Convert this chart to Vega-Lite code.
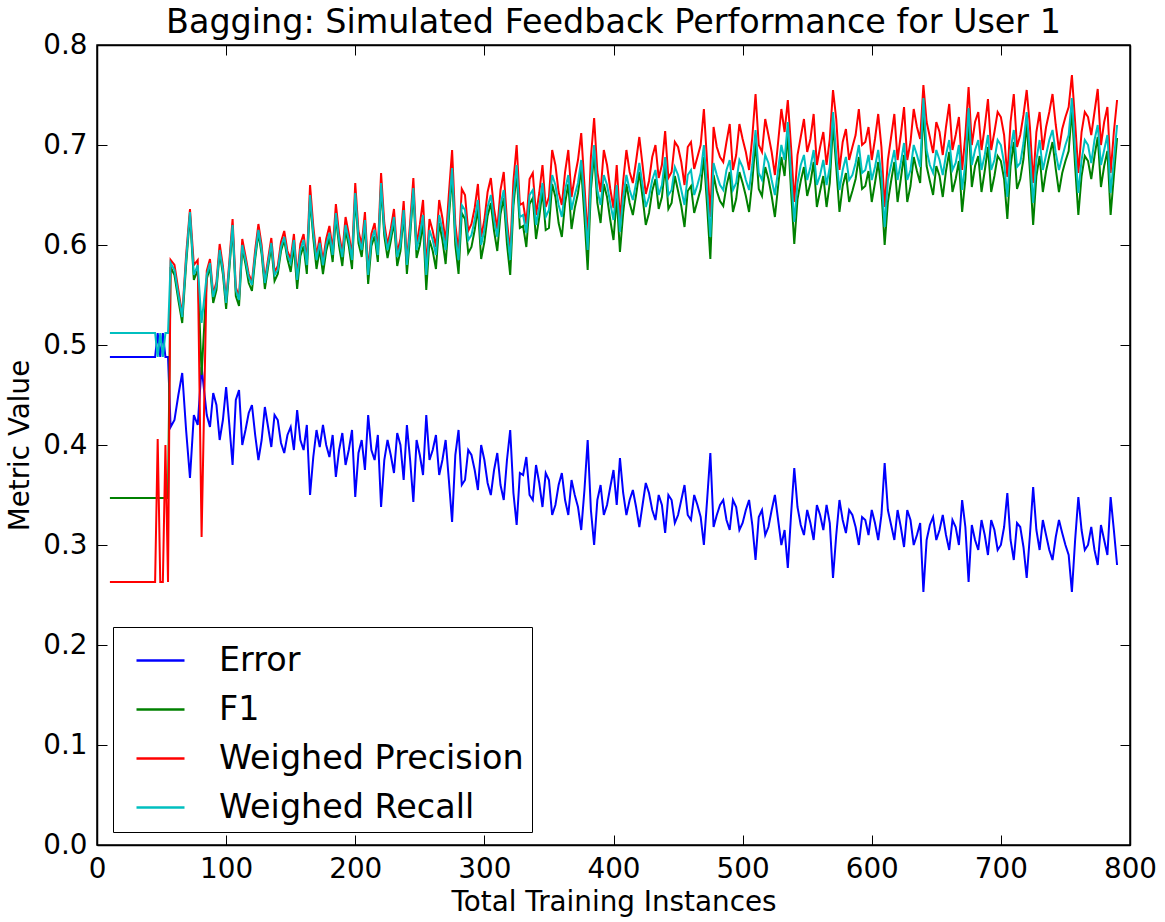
{
  "$schema": "https://vega.github.io/schema/vega-lite/v6.json",
  "autosize": "none",
  "padding": {"left": 97, "top": 45, "right": 35, "bottom": 77},
  "width": 1033,
  "height": 800,
  "background": "white",
  "title": {"text": "Bagging: Simulated Feedback Performance for User 1", "font": "DejaVu Sans", "fontSize": 33.4, "fontWeight": "normal", "color": "black", "offset": -9, "anchor": "middle"},
  "config": {
    "view": {"stroke": "black", "strokeWidth": 1.5},
    "axis": {"grid": false, "domainColor": "black", "domainWidth": 1.5, "tickColor": "black", "tickWidth": 1, "tickSize": -10, "labelFlush": false, "labelOverlap": false, "labelFont": "DejaVu Sans", "labelFontSize": 27.8, "labelColor": "black", "titleFont": "DejaVu Sans", "titleFontSize": 27.8, "titleFontWeight": "normal", "titleColor": "black"}
  },
  "data": {"values": [
    {"x":10,"e":0.488,"r":0.512,"p":0.263,"f":0.347},
    {"x":15,"e":0.488,"r":0.512,"p":0.263,"f":0.347},
    {"x":20,"e":0.488,"r":0.512,"p":0.263,"f":0.347},
    {"x":25,"e":0.488,"r":0.512,"p":0.263,"f":0.347},
    {"x":30,"e":0.488,"r":0.512,"p":0.263,"f":0.347},
    {"x":35,"e":0.488,"r":0.512,"p":0.263,"f":0.347},
    {"x":40,"e":0.488,"r":0.512,"p":0.263,"f":0.347},
    {"x":45,"e":0.488,"r":0.512,"p":0.263,"f":0.347},
    {"x":47,"e":0.512,"r":0.488,"p":0.406,"f":0.347},
    {"x":49,"e":0.488,"r":0.512,"p":0.263,"f":0.347},
    {"x":51,"e":0.512,"r":0.488,"p":0.263,"f":0.347},
    {"x":53,"e":0.488,"r":0.512,"p":0.400,"f":0.347},
    {"x":55,"e":0.488,"r":0.512,"p":0.263,"f":0.347},
    {"x":57,"e":0.418,"r":0.582,"p":0.585,"f":0.578},
    {"x":60,"e":0.425,"r":0.575,"p":0.580,"f":0.570},
    {"x":63,"e":0.450,"r":0.550,"p":0.555,"f":0.545},
    {"x":66,"e":0.472,"r":0.528,"p":0.530,"f":0.522},
    {"x":69,"e":0.415,"r":0.585,"p":0.590,"f":0.580},
    {"x":72,"e":0.367,"r":0.633,"p":0.636,"f":0.630},
    {"x":75,"e":0.430,"r":0.570,"p":0.580,"f":0.565},
    {"x":78,"e":0.420,"r":0.580,"p":0.585,"f":0.575},
    {"x":81,"e":0.478,"r":0.522,"p":0.308,"f":0.470},
    {"x":85,"e":0.430,"r":0.570,"p":0.574,"f":0.566},
    {"x":87.5,"e":0.418,"r":0.582,"p":0.586,"f":0.578},
    {"x":90,"e":0.452,"r":0.548,"p":0.551,"f":0.542},
    {"x":92.5,"e":0.440,"r":0.560,"p":0.563,"f":0.555},
    {"x":95,"e":0.405,"r":0.595,"p":0.601,"f":0.592},
    {"x":97.5,"e":0.425,"r":0.575,"p":0.579,"f":0.571},
    {"x":100,"e":0.458,"r":0.542,"p":0.545,"f":0.536},
    {"x":102.5,"e":0.420,"r":0.580,"p":0.584,"f":0.576},
    {"x":105,"e":0.380,"r":0.620,"p":0.626,"f":0.617},
    {"x":107.5,"e":0.445,"r":0.555,"p":0.558,"f":0.549},
    {"x":110,"e":0.455,"r":0.545,"p":0.548,"f":0.539},
    {"x":112.5,"e":0.400,"r":0.600,"p":0.606,"f":0.597},
    {"x":115,"e":0.415,"r":0.585,"p":0.589,"f":0.581},
    {"x":117.5,"e":0.432,"r":0.568,"p":0.571,"f":0.562},
    {"x":120,"e":0.440,"r":0.560,"p":0.563,"f":0.554},
    {"x":122.5,"e":0.410,"r":0.590,"p":0.595,"f":0.586},
    {"x":125,"e":0.385,"r":0.615,"p":0.621,"f":0.612},
    {"x":127.5,"e":0.405,"r":0.595,"p":0.600,"f":0.591},
    {"x":130,"e":0.438,"r":0.562,"p":0.565,"f":0.556},
    {"x":132.5,"e":0.418,"r":0.582,"p":0.586,"f":0.578},
    {"x":135,"e":0.398,"r":0.602,"p":0.607,"f":0.598},
    {"x":137.5,"e":0.430,"r":0.570,"p":0.573,"f":0.564},
    {"x":140,"e":0.425,"r":0.575,"p":0.579,"f":0.571},
    {"x":142.5,"e":0.402,"r":0.598,"p":0.603,"f":0.594},
    {"x":145,"e":0.392,"r":0.608,"p":0.614,"f":0.605},
    {"x":147.5,"e":0.410,"r":0.590,"p":0.594,"f":0.586},
    {"x":150,"e":0.418,"r":0.582,"p":0.586,"f":0.573},
    {"x":152.5,"e":0.395,"r":0.605,"p":0.611,"f":0.599},
    {"x":155,"e":0.435,"r":0.565,"p":0.569,"f":0.556},
    {"x":157.5,"e":0.405,"r":0.595,"p":0.601,"f":0.589},
    {"x":160,"e":0.395,"r":0.605,"p":0.611,"f":0.599},
    {"x":162.5,"e":0.420,"r":0.580,"p":0.584,"f":0.571},
    {"x":165,"e":0.350,"r":0.650,"p":0.660,"f":0.646},
    {"x":167.5,"e":0.388,"r":0.612,"p":0.619,"f":0.607},
    {"x":170,"e":0.415,"r":0.585,"p":0.589,"f":0.576},
    {"x":172.5,"e":0.398,"r":0.602,"p":0.608,"f":0.596},
    {"x":175,"e":0.420,"r":0.580,"p":0.584,"f":0.571},
    {"x":177.5,"e":0.400,"r":0.600,"p":0.606,"f":0.594},
    {"x":180,"e":0.388,"r":0.612,"p":0.619,"f":0.607},
    {"x":182.5,"e":0.410,"r":0.590,"p":0.595,"f":0.583},
    {"x":185,"e":0.368,"r":0.632,"p":0.641,"f":0.628},
    {"x":187.5,"e":0.395,"r":0.605,"p":0.611,"f":0.599},
    {"x":190,"e":0.412,"r":0.588,"p":0.592,"f":0.579},
    {"x":192.5,"e":0.380,"r":0.620,"p":0.628,"f":0.615},
    {"x":195,"e":0.395,"r":0.605,"p":0.611,"f":0.599},
    {"x":197.5,"e":0.415,"r":0.585,"p":0.589,"f":0.576},
    {"x":200,"e":0.348,"r":0.652,"p":0.662,"f":0.648},
    {"x":202.5,"e":0.392,"r":0.608,"p":0.614,"f":0.602},
    {"x":205,"e":0.405,"r":0.595,"p":0.600,"f":0.588},
    {"x":207.5,"e":0.375,"r":0.625,"p":0.633,"f":0.620},
    {"x":210,"e":0.430,"r":0.570,"p":0.574,"f":0.561},
    {"x":212.5,"e":0.395,"r":0.605,"p":0.611,"f":0.599},
    {"x":215,"e":0.385,"r":0.615,"p":0.622,"f":0.609},
    {"x":217.5,"e":0.410,"r":0.590,"p":0.595,"f":0.583},
    {"x":220,"e":0.338,"r":0.662,"p":0.672,"f":0.658},
    {"x":222.5,"e":0.385,"r":0.615,"p":0.622,"f":0.609},
    {"x":225,"e":0.405,"r":0.595,"p":0.600,"f":0.587},
    {"x":227.5,"e":0.390,"r":0.610,"p":0.616,"f":0.604},
    {"x":230,"e":0.372,"r":0.628,"p":0.636,"f":0.623},
    {"x":232.5,"e":0.412,"r":0.588,"p":0.592,"f":0.579},
    {"x":235,"e":0.400,"r":0.600,"p":0.606,"f":0.594},
    {"x":237.5,"e":0.365,"r":0.635,"p":0.644,"f":0.630},
    {"x":240,"e":0.420,"r":0.580,"p":0.584,"f":0.571},
    {"x":242.5,"e":0.385,"r":0.615,"p":0.622,"f":0.609},
    {"x":245,"e":0.343,"r":0.657,"p":0.667,"f":0.653},
    {"x":247.5,"e":0.405,"r":0.595,"p":0.600,"f":0.587},
    {"x":250,"e":0.390,"r":0.610,"p":0.620,"f":0.600},
    {"x":252.5,"e":0.370,"r":0.630,"p":0.645,"f":0.622},
    {"x":255,"e":0.430,"r":0.570,"p":0.578,"f":0.555},
    {"x":257.5,"e":0.385,"r":0.615,"p":0.626,"f":0.605},
    {"x":260,"e":0.395,"r":0.605,"p":0.614,"f":0.594},
    {"x":262.5,"e":0.410,"r":0.590,"p":0.598,"f":0.576},
    {"x":265,"e":0.370,"r":0.630,"p":0.645,"f":0.622},
    {"x":267.5,"e":0.385,"r":0.615,"p":0.627,"f":0.605},
    {"x":270,"e":0.405,"r":0.595,"p":0.603,"f":0.581},
    {"x":272.5,"e":0.365,"r":0.635,"p":0.651,"f":0.627},
    {"x":275,"e":0.323,"r":0.677,"p":0.695,"f":0.670},
    {"x":277.5,"e":0.390,"r":0.610,"p":0.621,"f":0.600},
    {"x":280,"e":0.415,"r":0.585,"p":0.593,"f":0.571},
    {"x":282.5,"e":0.360,"r":0.640,"p":0.656,"f":0.632},
    {"x":285,"e":0.365,"r":0.635,"p":0.650,"f":0.626},
    {"x":287.5,"e":0.395,"r":0.605,"p":0.614,"f":0.592},
    {"x":290,"e":0.390,"r":0.610,"p":0.621,"f":0.598},
    {"x":292.5,"e":0.375,"r":0.625,"p":0.637,"f":0.615},
    {"x":295,"e":0.355,"r":0.645,"p":0.661,"f":0.637},
    {"x":297.5,"e":0.400,"r":0.600,"p":0.608,"f":0.586},
    {"x":300,"e":0.385,"r":0.615,"p":0.625,"f":0.603},
    {"x":302.5,"e":0.362,"r":0.638,"p":0.653,"f":0.629},
    {"x":305,"e":0.350,"r":0.650,"p":0.667,"f":0.642},
    {"x":307.5,"e":0.375,"r":0.625,"p":0.636,"f":0.614},
    {"x":310,"e":0.392,"r":0.608,"p":0.616,"f":0.594},
    {"x":312.5,"e":0.360,"r":0.640,"p":0.655,"f":0.631},
    {"x":315,"e":0.345,"r":0.655,"p":0.673,"f":0.647},
    {"x":317.5,"e":0.385,"r":0.615,"p":0.624,"f":0.601},
    {"x":320,"e":0.415,"r":0.585,"p":0.593,"f":0.570},
    {"x":322.5,"e":0.352,"r":0.648,"p":0.664,"f":0.639},
    {"x":325,"e":0.320,"r":0.680,"p":0.700,"f":0.672},
    {"x":327.5,"e":0.372,"r":0.628,"p":0.640,"f":0.617},
    {"x":330,"e":0.370,"r":0.630,"p":0.642,"f":0.619},
    {"x":332.5,"e":0.388,"r":0.612,"p":0.621,"f":0.598},
    {"x":335,"e":0.350,"r":0.650,"p":0.666,"f":0.641},
    {"x":337.5,"e":0.345,"r":0.655,"p":0.672,"f":0.647},
    {"x":340,"e":0.380,"r":0.620,"p":0.630,"f":0.606},
    {"x":342.5,"e":0.362,"r":0.638,"p":0.652,"f":0.628},
    {"x":345,"e":0.338,"r":0.662,"p":0.680,"f":0.654},
    {"x":347.5,"e":0.372,"r":0.628,"p":0.638,"f":0.615},
    {"x":350,"e":0.365,"r":0.635,"p":0.648,"f":0.617},
    {"x":352.5,"e":0.330,"r":0.670,"p":0.695,"f":0.661},
    {"x":355,"e":0.340,"r":0.660,"p":0.680,"f":0.648},
    {"x":357.5,"e":0.360,"r":0.640,"p":0.653,"f":0.622},
    {"x":360,"e":0.372,"r":0.628,"p":0.640,"f":0.608},
    {"x":362.5,"e":0.345,"r":0.655,"p":0.673,"f":0.642},
    {"x":365,"e":0.330,"r":0.670,"p":0.695,"f":0.661},
    {"x":367.5,"e":0.365,"r":0.635,"p":0.648,"f":0.616},
    {"x":370,"e":0.350,"r":0.650,"p":0.668,"f":0.637},
    {"x":372.5,"e":0.338,"r":0.662,"p":0.685,"f":0.652},
    {"x":375,"e":0.315,"r":0.685,"p":0.712,"f":0.676},
    {"x":377.5,"e":0.355,"r":0.645,"p":0.660,"f":0.628},
    {"x":380,"e":0.405,"r":0.595,"p":0.607,"f":0.575},
    {"x":382.5,"e":0.335,"r":0.665,"p":0.688,"f":0.655},
    {"x":385,"e":0.300,"r":0.700,"p":0.727,"f":0.691},
    {"x":387.5,"e":0.345,"r":0.655,"p":0.673,"f":0.642},
    {"x":390,"e":0.360,"r":0.640,"p":0.653,"f":0.622},
    {"x":392.5,"e":0.330,"r":0.670,"p":0.695,"f":0.661},
    {"x":395,"e":0.340,"r":0.660,"p":0.680,"f":0.648},
    {"x":397.5,"e":0.358,"r":0.642,"p":0.656,"f":0.625},
    {"x":400,"e":0.375,"r":0.625,"p":0.637,"f":0.605},
    {"x":402.5,"e":0.340,"r":0.660,"p":0.680,"f":0.648},
    {"x":405,"e":0.387,"r":0.613,"p":0.625,"f":0.593},
    {"x":407.5,"e":0.352,"r":0.648,"p":0.664,"f":0.632},
    {"x":410,"e":0.330,"r":0.670,"p":0.695,"f":0.661},
    {"x":412.5,"e":0.345,"r":0.655,"p":0.673,"f":0.642},
    {"x":415,"e":0.355,"r":0.645,"p":0.662,"f":0.630},
    {"x":417.5,"e":0.338,"r":0.662,"p":0.684,"f":0.650},
    {"x":420,"e":0.318,"r":0.682,"p":0.708,"f":0.673},
    {"x":422.5,"e":0.340,"r":0.660,"p":0.680,"f":0.648},
    {"x":425,"e":0.362,"r":0.638,"p":0.651,"f":0.620},
    {"x":427.5,"e":0.352,"r":0.648,"p":0.664,"f":0.632},
    {"x":430,"e":0.335,"r":0.665,"p":0.688,"f":0.654},
    {"x":432.5,"e":0.325,"r":0.675,"p":0.700,"f":0.666},
    {"x":435,"e":0.350,"r":0.650,"p":0.667,"f":0.636},
    {"x":437.5,"e":0.340,"r":0.660,"p":0.680,"f":0.648},
    {"x":440,"e":0.312,"r":0.688,"p":0.714,"f":0.679},
    {"x":442.5,"e":0.350,"r":0.650,"p":0.667,"f":0.636},
    {"x":445,"e":0.345,"r":0.655,"p":0.673,"f":0.642},
    {"x":447.5,"e":0.322,"r":0.678,"p":0.703,"f":0.669},
    {"x":450,"e":0.330,"r":0.670,"p":0.698,"f":0.654},
    {"x":452.5,"e":0.345,"r":0.655,"p":0.683,"f":0.639},
    {"x":455,"e":0.360,"r":0.640,"p":0.660,"f":0.618},
    {"x":457.5,"e":0.330,"r":0.670,"p":0.698,"f":0.654},
    {"x":460,"e":0.325,"r":0.675,"p":0.703,"f":0.659},
    {"x":462.5,"e":0.350,"r":0.650,"p":0.676,"f":0.632},
    {"x":465,"e":0.340,"r":0.660,"p":0.688,"f":0.644},
    {"x":467.5,"e":0.328,"r":0.672,"p":0.700,"f":0.656},
    {"x":470,"e":0.300,"r":0.700,"p":0.736,"f":0.688},
    {"x":472.5,"e":0.345,"r":0.655,"p":0.683,"f":0.639},
    {"x":475,"e":0.392,"r":0.608,"p":0.628,"f":0.586},
    {"x":477.5,"e":0.318,"r":0.682,"p":0.718,"f":0.670},
    {"x":480,"e":0.330,"r":0.670,"p":0.698,"f":0.654},
    {"x":482.5,"e":0.340,"r":0.660,"p":0.688,"f":0.644},
    {"x":485,"e":0.345,"r":0.655,"p":0.683,"f":0.639},
    {"x":487.5,"e":0.325,"r":0.675,"p":0.703,"f":0.659},
    {"x":490,"e":0.315,"r":0.685,"p":0.721,"f":0.673},
    {"x":492.5,"e":0.345,"r":0.655,"p":0.675,"f":0.633},
    {"x":495,"e":0.338,"r":0.662,"p":0.690,"f":0.646},
    {"x":497.5,"e":0.315,"r":0.685,"p":0.721,"f":0.673},
    {"x":500,"e":0.322,"r":0.678,"p":0.706,"f":0.662},
    {"x":502.5,"e":0.335,"r":0.665,"p":0.693,"f":0.649},
    {"x":505,"e":0.345,"r":0.655,"p":0.675,"f":0.633},
    {"x":507.5,"e":0.320,"r":0.680,"p":0.708,"f":0.664},
    {"x":510,"e":0.285,"r":0.715,"p":0.751,"f":0.703},
    {"x":512.5,"e":0.328,"r":0.672,"p":0.700,"f":0.656},
    {"x":515,"e":0.335,"r":0.665,"p":0.693,"f":0.649},
    {"x":517.5,"e":0.310,"r":0.690,"p":0.726,"f":0.678},
    {"x":520,"e":0.318,"r":0.682,"p":0.710,"f":0.666},
    {"x":522.5,"e":0.335,"r":0.665,"p":0.693,"f":0.649},
    {"x":525,"e":0.350,"r":0.650,"p":0.670,"f":0.628},
    {"x":527.5,"e":0.325,"r":0.675,"p":0.703,"f":0.659},
    {"x":530,"e":0.300,"r":0.700,"p":0.736,"f":0.688},
    {"x":532.5,"e":0.315,"r":0.685,"p":0.713,"f":0.669},
    {"x":535,"e":0.277,"r":0.723,"p":0.745,"f":0.711},
    {"x":537.5,"e":0.330,"r":0.670,"p":0.698,"f":0.654},
    {"x":540,"e":0.377,"r":0.623,"p":0.643,"f":0.601},
    {"x":542.5,"e":0.338,"r":0.662,"p":0.690,"f":0.646},
    {"x":545,"e":0.320,"r":0.680,"p":0.708,"f":0.664},
    {"x":547.5,"e":0.310,"r":0.690,"p":0.726,"f":0.678},
    {"x":550,"e":0.335,"r":0.665,"p":0.693,"f":0.649},
    {"x":552.5,"e":0.322,"r":0.678,"p":0.706,"f":0.662},
    {"x":555,"e":0.305,"r":0.695,"p":0.731,"f":0.683},
    {"x":557.5,"e":0.340,"r":0.660,"p":0.680,"f":0.638},
    {"x":560,"e":0.330,"r":0.670,"p":0.698,"f":0.654},
    {"x":562.5,"e":0.315,"r":0.685,"p":0.713,"f":0.669},
    {"x":565,"e":0.340,"r":0.660,"p":0.680,"f":0.638},
    {"x":567.5,"e":0.322,"r":0.678,"p":0.706,"f":0.662},
    {"x":570,"e":0.267,"r":0.733,"p":0.755,"f":0.721},
    {"x":572.5,"e":0.310,"r":0.690,"p":0.726,"f":0.678},
    {"x":575,"e":0.345,"r":0.655,"p":0.675,"f":0.633},
    {"x":577.5,"e":0.325,"r":0.675,"p":0.703,"f":0.659},
    {"x":580,"e":0.312,"r":0.688,"p":0.716,"f":0.672},
    {"x":582.5,"e":0.335,"r":0.665,"p":0.685,"f":0.643},
    {"x":585,"e":0.330,"r":0.670,"p":0.698,"f":0.654},
    {"x":587.5,"e":0.318,"r":0.682,"p":0.710,"f":0.666},
    {"x":590,"e":0.300,"r":0.700,"p":0.736,"f":0.688},
    {"x":592.5,"e":0.328,"r":0.672,"p":0.700,"f":0.656},
    {"x":595,"e":0.325,"r":0.675,"p":0.703,"f":0.659},
    {"x":597.5,"e":0.310,"r":0.690,"p":0.718,"f":0.674},
    {"x":600,"e":0.335,"r":0.665,"p":0.685,"f":0.643},
    {"x":602.5,"e":0.322,"r":0.678,"p":0.706,"f":0.662},
    {"x":605,"e":0.305,"r":0.695,"p":0.731,"f":0.683},
    {"x":607.5,"e":0.330,"r":0.670,"p":0.698,"f":0.654},
    {"x":610,"e":0.382,"r":0.618,"p":0.638,"f":0.600},
    {"x":612.5,"e":0.335,"r":0.665,"p":0.685,"f":0.643},
    {"x":615,"e":0.320,"r":0.680,"p":0.708,"f":0.664},
    {"x":617.5,"e":0.305,"r":0.695,"p":0.731,"f":0.683},
    {"x":620,"e":0.335,"r":0.665,"p":0.685,"f":0.643},
    {"x":622.5,"e":0.318,"r":0.682,"p":0.710,"f":0.666},
    {"x":625,"e":0.298,"r":0.702,"p":0.738,"f":0.690},
    {"x":627.5,"e":0.335,"r":0.665,"p":0.685,"f":0.643},
    {"x":630,"e":0.325,"r":0.675,"p":0.703,"f":0.659},
    {"x":632.5,"e":0.300,"r":0.700,"p":0.736,"f":0.688},
    {"x":635,"e":0.310,"r":0.690,"p":0.718,"f":0.674},
    {"x":637.5,"e":0.322,"r":0.678,"p":0.706,"f":0.662},
    {"x":640,"e":0.253,"r":0.747,"p":0.760,"f":0.735},
    {"x":642.5,"e":0.305,"r":0.695,"p":0.723,"f":0.679},
    {"x":645,"e":0.320,"r":0.680,"p":0.708,"f":0.664},
    {"x":647.5,"e":0.328,"r":0.672,"p":0.692,"f":0.650},
    {"x":650,"e":0.305,"r":0.695,"p":0.723,"f":0.679},
    {"x":652.5,"e":0.315,"r":0.685,"p":0.713,"f":0.669},
    {"x":655,"e":0.330,"r":0.670,"p":0.690,"f":0.648},
    {"x":657.5,"e":0.310,"r":0.690,"p":0.718,"f":0.674},
    {"x":660,"e":0.295,"r":0.705,"p":0.741,"f":0.693},
    {"x":662.5,"e":0.325,"r":0.675,"p":0.695,"f":0.653},
    {"x":665,"e":0.318,"r":0.682,"p":0.710,"f":0.666},
    {"x":667.5,"e":0.300,"r":0.700,"p":0.728,"f":0.684},
    {"x":670,"e":0.345,"r":0.655,"p":0.675,"f":0.633},
    {"x":672.5,"e":0.318,"r":0.682,"p":0.710,"f":0.666},
    {"x":675,"e":0.263,"r":0.737,"p":0.758,"f":0.725},
    {"x":677.5,"e":0.320,"r":0.680,"p":0.700,"f":0.658},
    {"x":680,"e":0.305,"r":0.695,"p":0.723,"f":0.679},
    {"x":682.5,"e":0.295,"r":0.705,"p":0.733,"f":0.689},
    {"x":685,"e":0.325,"r":0.675,"p":0.695,"f":0.653},
    {"x":687.5,"e":0.310,"r":0.690,"p":0.718,"f":0.674},
    {"x":690,"e":0.290,"r":0.710,"p":0.746,"f":0.698},
    {"x":692.5,"e":0.325,"r":0.675,"p":0.695,"f":0.653},
    {"x":695,"e":0.315,"r":0.685,"p":0.713,"f":0.669},
    {"x":697.5,"e":0.295,"r":0.705,"p":0.733,"f":0.689},
    {"x":700,"e":0.300,"r":0.700,"p":0.728,"f":0.684},
    {"x":702.5,"e":0.318,"r":0.682,"p":0.710,"f":0.666},
    {"x":705,"e":0.352,"r":0.648,"p":0.668,"f":0.626},
    {"x":707.5,"e":0.305,"r":0.695,"p":0.723,"f":0.679},
    {"x":710,"e":0.285,"r":0.715,"p":0.751,"f":0.703},
    {"x":712.5,"e":0.322,"r":0.678,"p":0.698,"f":0.656},
    {"x":715,"e":0.318,"r":0.682,"p":0.710,"f":0.666},
    {"x":717.5,"e":0.298,"r":0.702,"p":0.730,"f":0.686},
    {"x":720,"e":0.267,"r":0.733,"p":0.755,"f":0.721},
    {"x":722.5,"e":0.310,"r":0.690,"p":0.718,"f":0.674},
    {"x":725,"e":0.358,"r":0.642,"p":0.662,"f":0.620},
    {"x":727.5,"e":0.315,"r":0.685,"p":0.713,"f":0.669},
    {"x":730,"e":0.295,"r":0.705,"p":0.733,"f":0.689},
    {"x":732.5,"e":0.325,"r":0.675,"p":0.695,"f":0.653},
    {"x":735,"e":0.310,"r":0.690,"p":0.718,"f":0.674},
    {"x":737.5,"e":0.295,"r":0.705,"p":0.733,"f":0.689},
    {"x":740,"e":0.285,"r":0.715,"p":0.751,"f":0.703},
    {"x":742.5,"e":0.308,"r":0.692,"p":0.720,"f":0.676},
    {"x":745,"e":0.325,"r":0.675,"p":0.695,"f":0.653},
    {"x":747.5,"e":0.312,"r":0.688,"p":0.716,"f":0.672},
    {"x":750,"e":0.300,"r":0.700,"p":0.728,"f":0.684},
    {"x":752.5,"e":0.290,"r":0.710,"p":0.738,"f":0.694},
    {"x":755,"e":0.253,"r":0.747,"p":0.770,"f":0.735},
    {"x":757.5,"e":0.305,"r":0.695,"p":0.723,"f":0.679},
    {"x":760,"e":0.348,"r":0.652,"p":0.672,"f":0.630},
    {"x":762.5,"e":0.315,"r":0.685,"p":0.713,"f":0.669},
    {"x":765,"e":0.295,"r":0.705,"p":0.733,"f":0.689},
    {"x":767.5,"e":0.300,"r":0.700,"p":0.728,"f":0.684},
    {"x":770,"e":0.318,"r":0.682,"p":0.710,"f":0.666},
    {"x":772.5,"e":0.295,"r":0.705,"p":0.733,"f":0.689},
    {"x":775,"e":0.280,"r":0.720,"p":0.756,"f":0.708},
    {"x":777.5,"e":0.320,"r":0.680,"p":0.700,"f":0.658},
    {"x":780,"e":0.305,"r":0.695,"p":0.723,"f":0.679},
    {"x":782.5,"e":0.290,"r":0.710,"p":0.738,"f":0.694},
    {"x":785,"e":0.348,"r":0.652,"p":0.672,"f":0.630},
    {"x":787.5,"e":0.315,"r":0.685,"p":0.713,"f":0.669},
    {"x":790,"e":0.280,"r":0.720,"p":0.745,"f":0.707}
  ]},
  "transform": [{"fold": ["e", "f", "p", "r"], "as": ["series", "value"]}],
  "resolve": {"axis": {"x": "independent", "y": "independent"}},
  "layer": [
    {
      "mark": {"type": "line", "strokeWidth": 2, "clip": true},
      "encoding": {
        "x": {"field": "x", "type": "quantitative", "scale": {"domain": [0, 800], "nice": false, "zero": false},
              "axis": {"values": [0,100,200,300,400,500,600,700,800], "title": "Total Training Instances", "labelPadding": 20, "titlePadding": 6}},
        "y": {"field": "value", "type": "quantitative", "scale": {"domain": [0, 0.8], "nice": false},
              "axis": {"values": [0,0.1,0.2,0.3,0.4,0.5,0.6,0.7,0.8], "format": ".1f", "title": "Metric Value", "labelPadding": 20, "titlePadding": 8}},
        "color": {"field": "series", "type": "nominal",
                  "scale": {"domain": ["e", "f", "p", "r"], "range": ["#0000ff", "#008000", "#ff0000", "#00bfbf"]},
                  "legend": {"orient": "none", "legendX": 16, "legendY": 582, "title": null,
                             "symbolType": "stroke", "symbolSize": 2304, "symbolStrokeWidth": 2.5,
                             "labelFont": "DejaVu Sans", "labelFontSize": 33.4, "labelColor": "black", "labelLimit": 600,
                             "labelOffset": 33, "symbolOffset": 14,
                             "strokeColor": "black", "fillColor": "white", "padding": 8, "rowPadding": 7,
                             "labelExpr": "{'e': 'Error', 'f': 'F1', 'p': 'Weighed Precision', 'r': 'Weighed Recall'}[datum.label]"}}
      }
    },
    {
      "mark": {"type": "point", "opacity": 0},
      "encoding": {
        "x": {"field": "x", "type": "quantitative", "axis": {"orient": "top", "values": [0,100,200,300,400,500,600,700,800], "labels": false, "title": null}},
        "y": {"field": "value", "type": "quantitative", "axis": {"orient": "right", "values": [0,0.1,0.2,0.3,0.4,0.5,0.6,0.7,0.8], "labels": false, "title": null}}
      }
    }
  ]
}
